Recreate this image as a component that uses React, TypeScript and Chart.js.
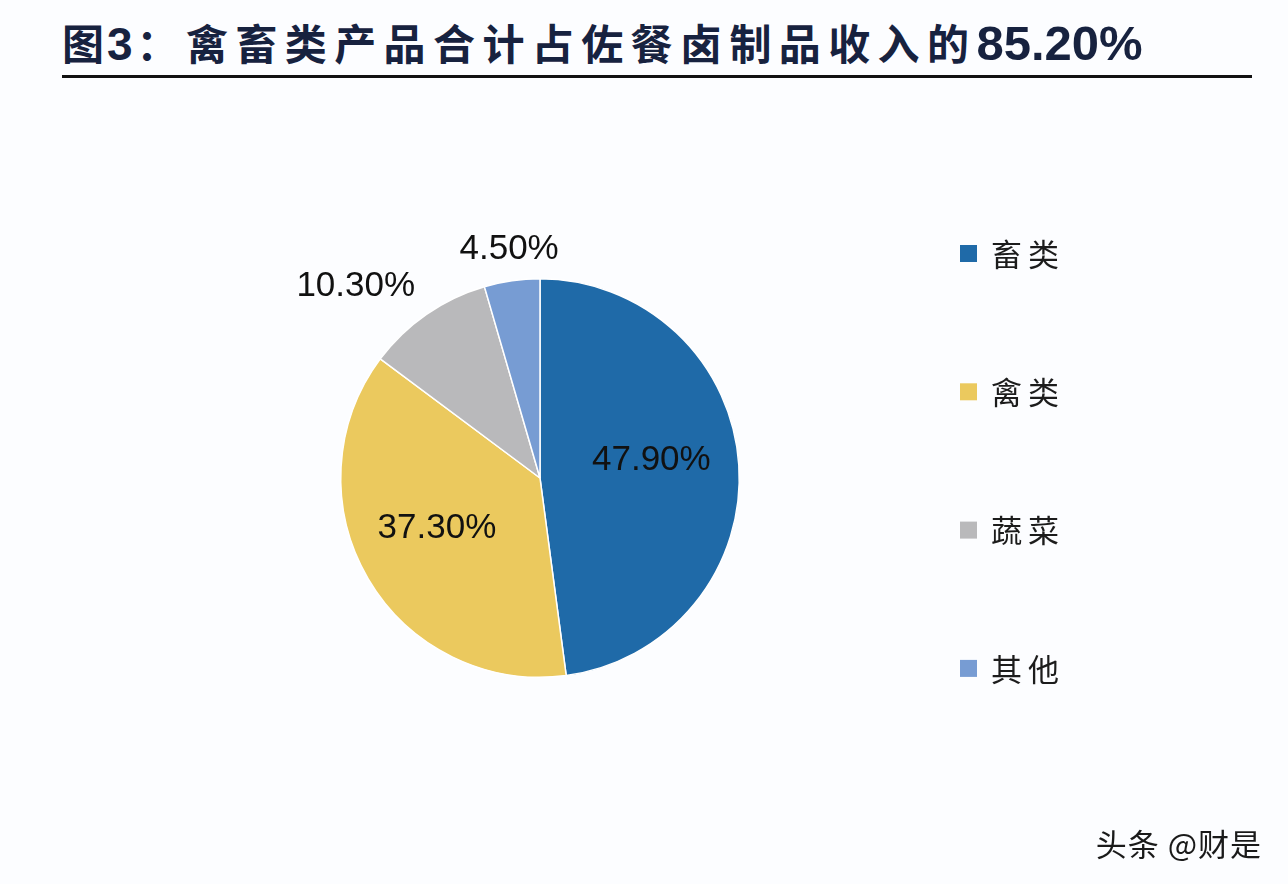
import { useEffect, useRef } from "react"
import { Chart, registerables } from "chart.js"

Chart.register(...registerables)

const categories = ["畜类", "禽类", "蔬菜", "其他"]
const shares = [47.9, 37.3, 10.3, 4.5]
const sliceColors = ["#1f6aa8", "#ebc95e", "#b9b9bb", "#779cd3"]

const TITLE_PARTS = ["图", "3", "：禽畜类产品合计占佐餐卤制品收入的", "85.20%"]
const WATERMARK = "头条 @财是"

// draws the percentage labels: inside big slices, outside small ones
const sliceLabels = {
  id: "sliceLabels",
  afterDatasetsDraw(chart: any) {
    const { ctx } = chart
    const meta = chart.getDatasetMeta(0)
    ctx.save()
    ctx.fillStyle = "#111"
    ctx.font = '35px "Liberation Sans", Arial, sans-serif'
    meta.data.forEach((arc: any, i: number) => {
      const { x, y, startAngle, endAngle, outerRadius } = arc.getProps(
        ["x", "y", "startAngle", "endAngle", "outerRadius"],
        true
      )
      const mid = (startAngle + endAngle) / 2
      const dx = Math.cos(mid)
      const dy = Math.sin(mid)
      const text = shares[i].toFixed(2) + "%"
      if (shares[i] > 15) {
        ctx.textAlign = "center"
        ctx.textBaseline = "middle"
        const f = dx < 0 ? 0.6 : 0.56
        ctx.fillText(text, x + dx * outerRadius * f, y + dy * outerRadius * f - 10)
      } else {
        const r = outerRadius * 1.1
        ctx.textAlign = dx < -0.3 ? "right" : dx > 0.3 ? "left" : "center"
        ctx.textBaseline = dy < 0 ? "bottom" : "top"
        ctx.fillText(text, x + dx * r, y + dy * r + (dy < 0 ? 6 : 0))
      }
    })
    ctx.restore()
  },
}

// vertical legend on the right with wide spacing
const sideLegend = {
  id: "sideLegend",
  afterDraw(chart: any) {
    const { ctx } = chart
    const labels = chart.data.labels as string[]
    const colors = chart.data.datasets[0].backgroundColor as string[]
    ctx.save()
    ctx.font = '31px "Noto Sans CJK SC", sans-serif'
    ctx.textBaseline = "middle"
    ctx.textAlign = "left"
    labels.forEach((label, i) => {
      const cy = 253 + i * 138.3
      ctx.fillStyle = colors[i]
      ctx.fillRect(960, cy - 8, 17, 17)
      ctx.fillStyle = "#1c1c1c"
      label.split("").forEach((ch, k) => {
        ctx.fillText(ch, 991 + k * 37, cy + 1)
      })
    })
    ctx.restore()
  },
}

function PieChart() {
  const canvasRef = useRef<HTMLCanvasElement>(null)
  const chartInstance = useRef<Chart | null>(null)

  useEffect(() => {
    if (!canvasRef.current) return
    if (chartInstance.current) chartInstance.current.destroy()

    chartInstance.current = new Chart(canvasRef.current, {
      type: "pie",
      data: {
        labels: categories,
        datasets: [
          {
            data: shares,
            backgroundColor: sliceColors,
            borderColor: "#ffffff",
            borderWidth: 1.5,
          },
        ],
      },
      options: {
        responsive: false,
        animation: false,
        layout: {
          padding: { left: 340, top: 278, right: 548, bottom: 206 },
        },
        plugins: {
          legend: { display: false },
          tooltip: { enabled: false },
        },
      },
      plugins: [sliceLabels, sideLegend],
    })

    return () => {
      if (chartInstance.current) {
        chartInstance.current.destroy()
        chartInstance.current = null
      }
    }
  }, [])

  return (
    <canvas
      ref={canvasRef}
      width={1288}
      height={884}
      style={{ position: "absolute", left: 0, top: 0, width: 1288, height: 884 }}
    />
  )
}

const cjk = { fontFamily: '"Noto Sans CJK SC", sans-serif', fontSize: 42, letterSpacing: 7.4 }
const latin = { fontFamily: '"Liberation Sans", Arial, sans-serif', fontSize: 49, letterSpacing: 0 }

export default function App() {
  return (
    <div
      style={{
        position: "fixed",
        left: 0,
        top: 0,
        width: 1288,
        height: 884,
        background: "#fcfdff",
        overflow: "hidden",
      }}
    >
      <div
        style={{
          position: "absolute",
          left: 62,
          top: 14,
          fontWeight: 700,
          color: "#17223f",
          whiteSpace: "nowrap",
          lineHeight: "56px",
        }}
      >
        <span style={{ ...cjk, letterSpacing: 3 }}>{TITLE_PARTS[0]}</span>
        <span style={{ ...latin, fontSize: 46, marginRight: 4 }}>{TITLE_PARTS[1]}</span>
        <span style={cjk}>{TITLE_PARTS[2]}</span>
        <span style={latin}>{TITLE_PARTS[3]}</span>
      </div>
      <div
        style={{
          position: "absolute",
          left: 62,
          top: 75,
          width: 1190,
          height: 3,
          background: "#111",
        }}
      />
      <PieChart />
      <div
        style={{
          position: "absolute",
          right: 26,
          top: 821,
          fontFamily: '"Noto Sans CJK SC", sans-serif',
          fontSize: 31,
          letterSpacing: 1,
          color: "#1a1a1a",
          whiteSpace: "nowrap",
          lineHeight: "44px",
        }}
      >
        {WATERMARK}
      </div>
    </div>
  )
}
